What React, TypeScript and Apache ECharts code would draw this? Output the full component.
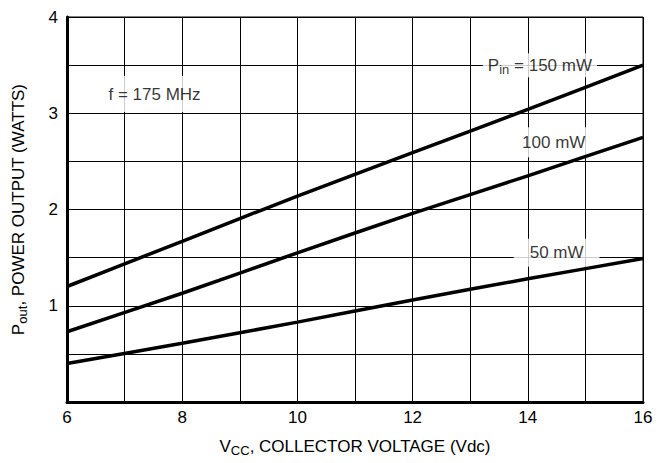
import React, { useEffect, useRef } from "react";
import * as echarts from "echarts";

const vcc = [6, 8, 10, 12, 14, 16];
const p150 = [1.2, 1.67, 2.14, 2.59, 3.04, 3.5];
const p100 = [0.73, 1.13, 1.55, 1.96, 2.35, 2.75];
const p50 = [0.4, 0.61, 0.83, 1.06, 1.28, 1.49];

const xTickLabels = ["6", "8", "10", "12", "14", "16"];
const yTickLabels = ["1", "2", "3", "4"];

const annotX = [7.52, 14.21, 14.45, 14.5];
const annotY = [3.2, 3.5, 2.7, 1.55];
const annotText = [
  "{n|f = 175 MHz}",
  "{n|P}{s|in}{n| = 150 mW}",
  "{n|100 mW}",
  "{n|50 mW}",
];
const annotPad = [
  [7, 5, 7, 5],
  [1, 5, 1, 5],
  [4, 5, 4, 5],
  [3, 16, 3, 16],
];

const FONT = "'Liberation Sans', Arial, Helvetica, sans-serif";

const rich = {
  n: { fontSize: 17, lineHeight: 22, color: "#000", fontFamily: FONT },
  s: { fontSize: 13, lineHeight: 13, color: "#000", fontFamily: FONT, verticalAlign: "bottom" },
};

export default function App() {
  const ref = useRef<HTMLDivElement>(null);
  useEffect(() => {
    if (!ref.current) return;
    const chart = echarts.init(ref.current, null, { renderer: "svg" });
    const mk = (ys: number[]) => vcc.map((x, i) => [x, ys[i]]);
    const lineSeries = (name: string, ys: number[]) => ({
      name,
      type: "line",
      data: mk(ys),
      smooth: 0.2,
      symbol: "none",
      lineStyle: { color: "#000", width: 3.5 },
      z: 5,
    });
    chart.setOption({
      animation: false,
      backgroundColor: "#fff",
      grid: {
        left: 67,
        right: 22,
        top: 17,
        bottom: 61,
        show: true,
        borderColor: "#000",
        borderWidth: 1,
      },
      xAxis: {
        type: "value",
        min: 6,
        max: 16,
        interval: 1,
        name: "{n|V}{s|CC}{n|, COLLECTOR VOLTAGE (Vdc)}",
        nameLocation: "middle",
        nameGap: 33,
        nameTextStyle: { rich },
        axisLine: { show: true, onZero: false, lineStyle: { color: "#000", width: 3 } },
        axisTick: { show: false },
        axisLabel: {
          margin: 7,
          color: "#000",
          fontSize: 17,
          fontFamily: FONT,
          formatter: (v: number) => {
            const s = String(v);
            return xTickLabels.includes(s) ? s : "";
          },
        },
        splitLine: { show: true, lineStyle: { color: "#000", width: 1 } },
      },
      yAxis: {
        type: "value",
        min: 0,
        max: 4,
        interval: 0.5,
        name: "{n|P}{s|out}{n|, POWER OUTPUT (WATTS)}",
        nameLocation: "middle",
        nameGap: 38,
        nameTextStyle: { rich },
        axisLine: { show: true, onZero: false, lineStyle: { color: "#000", width: 3 } },
        axisTick: { show: false },
        axisLabel: {
          margin: 9,
          color: "#000",
          fontSize: 17,
          fontFamily: FONT,
          formatter: (v: number) => {
            const s = String(v);
            return yTickLabels.includes(s) ? s : "";
          },
        },
        splitLine: { show: true, lineStyle: { color: "#000", width: 1 } },
      },
      series: [
        lineSeries("150 mW", p150),
        lineSeries("100 mW", p100),
        lineSeries("50 mW", p50),
        {
          type: "scatter",
          symbolSize: 0,
          z: 4,
          data: annotX.map((x, i) => ({
            value: [x, annotY[i]],
            label: {
              show: true,
              position: "inside",
              formatter: annotText[i],
              rich,
              backgroundColor: "#fff",
              padding: annotPad[i],
            },
          })),
          silent: true,
        },
      ],
    });
    return () => chart.dispose();
  }, []);
  return <div ref={ref} style={{ width: 665, height: 463, margin: -8 }} />;
}
